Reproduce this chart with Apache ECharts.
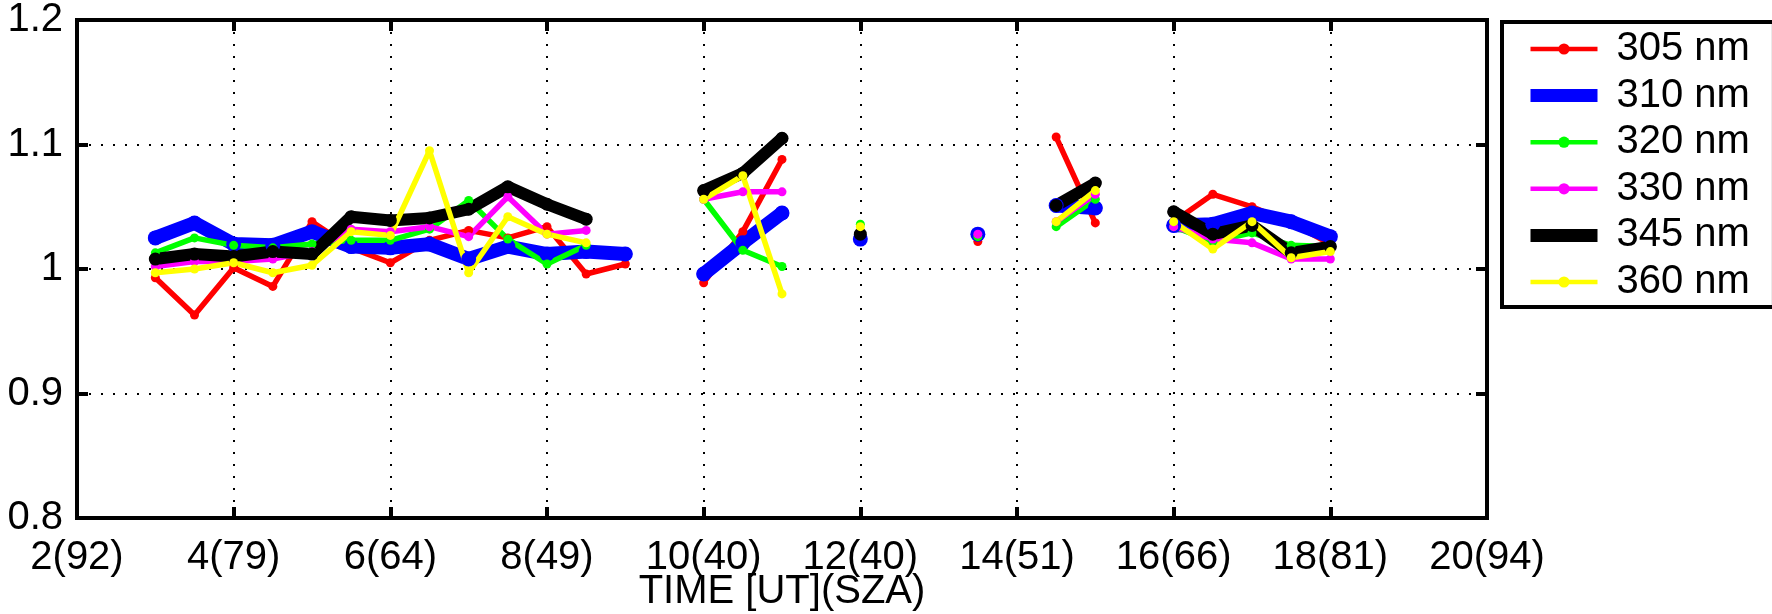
<!DOCTYPE html>
<html>
<head>
<meta charset="utf-8">
<script src="https://cdn.jsdelivr.net/npm/echarts@6/dist/echarts.min.js"></script>
<style>
  html, body { margin: 0; padding: 0; background: #fff; }
  #chart { width: 1772px; height: 614px; }
</style>
</head>
<body>
<div id="chart"></div>
<script>
// time axis (UT hours); null rows mark gaps between measurement blocks
const times = [3, 3.5, 4, 4.5, 5, 5.5, 6, 6.5, 7, 7.5, 8, 8.5, 9, 9.5,
  10, 10.5, 11, 11.5, 12, 12.75, 13.5, 14, 14.5, 15, 15.5,
  16, 16.5, 17, 17.5, 18];

const xTickLabels = ['2(92)', '4(79)', '6(64)', '8(49)', '10(40)', '12(40)',
  '14(51)', '16(66)', '18(81)', '20(94)'];

const v305 = [0.993, 0.963, 1.001, 0.986, 1.038, 1.017, 1.005, 1.023, 1.031, 1.025, 1.034, 0.996, 1.004, null,
  0.989, 1.030, 1.088, null, 1.026, null, 1.022, null, 1.106, 1.037, null,
  1.038, 1.060, 1.050, 1.037, 1.020];
const v310 = [1.025, 1.037, 1.020, 1.019, 1.030, 1.018, 1.017, 1.020, 1.008, 1.018, 1.012, 1.014, 1.012, null,
  0.996, 1.021, 1.045, null, 1.024, null, 1.028, null, 1.051, 1.049, null,
  1.035, 1.036, 1.045, 1.038, 1.026];
const v320 = [1.013, 1.025, 1.019, 1.017, 1.020, 1.023, 1.023, 1.032, 1.055, 1.024, 1.004, 1.019, null, null,
  1.056, 1.015, 1.002, null, 1.036, null, 1.026, null, 1.034, 1.056, null,
  1.034, 1.022, 1.029, 1.019, 1.018];
const v330 = [1.002, 1.006, 1.006, 1.008, 1.014, 1.032, 1.030, 1.034, 1.026, 1.058, 1.028, 1.031, null, null,
  1.056, 1.062, 1.062, null, 1.028, null, 1.028, null, 1.038, 1.060, null,
  1.034, 1.024, 1.021, 1.008, 1.008];
const v345 = [1.008, 1.012, 1.010, 1.014, 1.012, 1.042, 1.039, 1.041, 1.048, 1.066, 1.052, 1.040, null, null,
  1.063, 1.077, 1.105, null, 1.028, null, null, null, 1.051, 1.069, null,
  1.046, 1.028, 1.035, 1.013, 1.018];
const v360 = [0.997, 1.000, 1.005, 0.997, 1.003, 1.030, 1.027, 1.095, 0.997, 1.042, 1.028, 1.021, null, null,
  1.056, 1.075, 0.980, null, 1.034, null, null, null, 1.038, 1.063, null,
  1.038, 1.016, 1.038, 1.009, 1.014];

const FONT = 'Liberation Sans';
const FS = 40;

const makeSeries = (name, vals, color, width, dot) => ({
  name: name,
  type: 'line',
  data: times.map((t, i) => [t, vals[i] === null ? '-' : vals[i]]),
  connectNulls: false,
  symbol: 'circle',
  symbolSize: dot,
  showSymbol: true,
  showAllSymbol: true,
  itemStyle: { color: color, borderWidth: 0 },
  lineStyle: { color: color, width: width, cap: 'round', join: 'round' },
  emphasis: { disabled: true }
});

const legendItem = (name, width) => ({ name: name, lineStyle: { width: width, cap: 'butt' } });

const chart = echarts.init(document.getElementById('chart'));

const gridLine = { show: true, lineStyle: { color: '#000', width: 2, type: [2, 10] } };
const boxLine = { show: true, lineStyle: { color: '#000', width: 4 } };
const inTick = { show: true, inside: true, length: 11, lineStyle: { color: '#000', width: 4 } };

const option = {
  animation: false,
  backgroundColor: '#fff',
  grid: {
    left: 77, right: 285, top: 20, bottom: 96,
    containLabel: false, outerBoundsMode: 'none',
    show: true, borderColor: '#000', borderWidth: 4
  },
  legend: {
    left: 1502,
    top: 22,
    orient: 'vertical',
    backgroundColor: '#fff',
    borderColor: '#000',
    borderWidth: 4,
    borderRadius: 0,
    padding: [7, 24, 5, 22],
    itemWidth: 67,
    itemHeight: 14,
    itemGap: 6.6,
    textStyle: { fontFamily: FONT, fontSize: FS, color: '#000', lineHeight: 40, padding: [0, 0, 0, 14] },
    data: [
      legendItem('305 nm', 4.5),
      legendItem('310 nm', 13),
      legendItem('320 nm', 4.5),
      legendItem('330 nm', 4.5),
      legendItem('345 nm', 13),
      legendItem('360 nm', 4.5)
    ]
  },
  xAxis: [
    {
      type: 'value', min: 2, max: 20, interval: 2,
      name: 'TIME [UT](SZA)', nameLocation: 'middle', nameGap: 54, nameMoveOverlap: false,
      nameTextStyle: { fontFamily: FONT, fontSize: FS, color: '#000' },
      axisLine: boxLine,
      axisTick: inTick,
      axisLabel: {
        margin: 20, fontFamily: FONT, fontSize: FS, color: '#000',
        formatter: v => xTickLabels[Math.round((v - 2) / 2)]
      },
      splitLine: gridLine
    },
    {
      type: 'value', min: 2, max: 20, interval: 2, position: 'top',
      axisLine: boxLine,
      axisTick: inTick,
      axisLabel: { show: false },
      splitLine: { show: false }
    }
  ],
  yAxis: [
    {
      type: 'value', min: 0.8, max: 1.2, interval: 0.1,
      axisLine: boxLine,
      axisTick: inTick,
      axisLabel: { margin: 14, fontFamily: FONT, fontSize: FS, color: '#000' },
      splitLine: gridLine
    },
    {
      type: 'value', min: 0.8, max: 1.2, interval: 0.1, position: 'right',
      axisLine: boxLine,
      axisTick: inTick,
      axisLabel: { show: false },
      splitLine: { show: false }
    }
  ],
  series: [
    makeSeries('305 nm', v305, '#ff0000', 5.5, 9),
    makeSeries('310 nm', v310, '#0000ff', 14, 15),
    makeSeries('320 nm', v320, '#00ff00', 5.5, 9),
    makeSeries('330 nm', v330, '#ff00ff', 5.5, 9),
    makeSeries('345 nm', v345, '#000000', 12, 13),
    makeSeries('360 nm', v360, '#ffff00', 5.5, 9)
  ]
};

chart.setOption(option);
</script>
</body>
</html>
